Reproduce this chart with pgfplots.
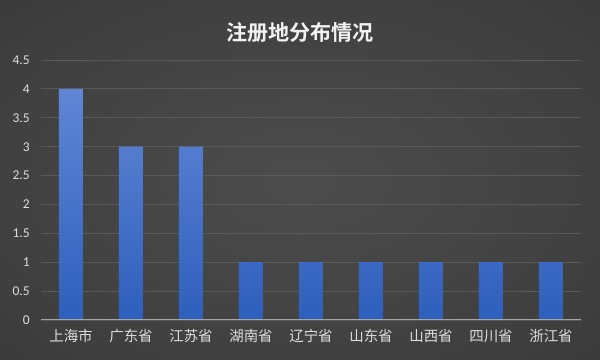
\documentclass[border=0pt]{standalone}
\usepackage{pgfplots}
\pgfplotsset{compat=1.18}
\usepackage{fontspec}
\setmainfont{Carlito}
\newfontfamily\cjk{Noto Sans CJK SC}[BoldFont={Noto Sans CJK SC Bold}]
\definecolor{bgin}{HTML}{4C4C4C}
\definecolor{bgmid}{HTML}{3E3E3E}
\definecolor{bgout}{HTML}{202020}
\definecolor{gridc}{HTML}{5A5A5A}
\definecolor{axisc}{HTML}{A6A6A6}
\definecolor{barTop}{HTML}{6086D5}
\definecolor{barBot}{HTML}{2E5FBD}
\definecolor{labc}{HTML}{DDDDDD}
\pgfdeclareradialshading{bgshade}{\pgfpoint{0bp}{0bp}}{color(0bp)=(bgin); color(30bp)=(bgmid); color(72bp)=(bgout)}
\begin{document}
\begin{tikzpicture}
\shade[shading=bgshade] (0,0) rectangle (15cm,9cm);
\node[text=white!95!black, font=\cjk\bfseries\fontsize{15}{18}\selectfont] at (7.5cm,8.175cm) {注册地分布情况};
\begin{axis}[
  at={(1.025cm,1cm)}, anchor=south west,
  scale only axis, width=13.5cm, height=6.5cm,
  xmin=-0.5, xmax=8.5, ymin=0, ymax=4.5,
  axis line style={draw=none},
  major tick length=0pt,
  ymajorgrids, grid style={color=gridc, line width=0.6pt},
  ytick={0,0.5,1,1.5,2,2.5,3,3.5,4,4.5},
  /pgf/number format/assume math mode=true,
  yticklabel style={font=\fontsize{9.6}{11}\selectfont, text=labc, xshift=-4.5pt},
  xtick={0,1,2,3,4,5,6,7,8},
  xticklabels={上海市,广东省,江苏省,湖南省,辽宁省,山东省,山西省,四川省,浙江省},
  xticklabel style={font=\cjk\fontsize{10.3}{12}\selectfont, text=labc, yshift=-3pt},
]
\addplot[ybar, bar width=0.6cm, draw=none, top color=barTop, bottom color=barBot] coordinates {
(0,4) (1,3) (2,3) (3,1) (4,1) (5,1) (6,1) (7,1) (8,1)};
\draw[axisc, line width=1.1pt] (axis cs:-0.5,0) -- (axis cs:8.5,0);
\end{axis}
\end{tikzpicture}
\end{document}
